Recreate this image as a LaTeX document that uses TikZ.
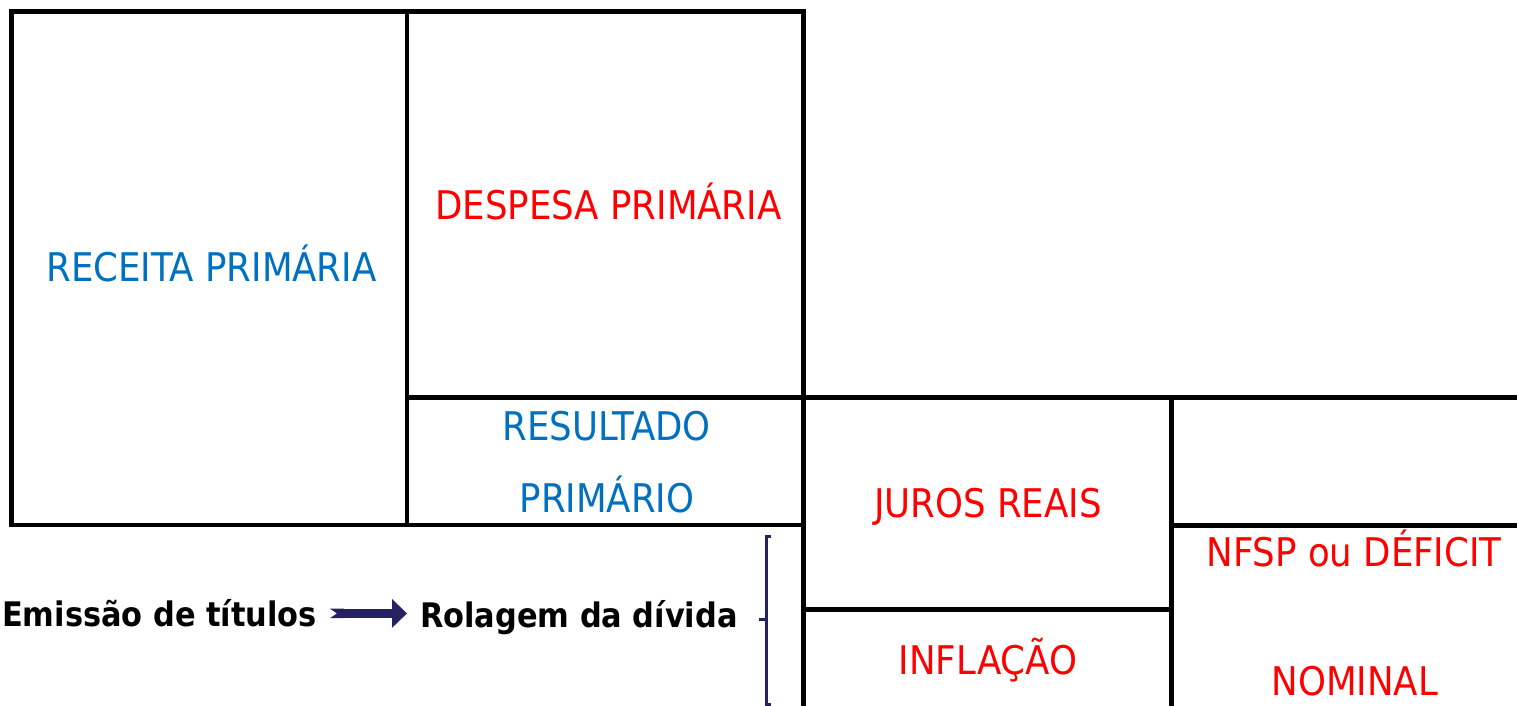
\documentclass[tikz,border=0pt]{standalone}
\usepackage{fontspec}
\setmainfont{DejaVu Sans Condensed}
\usetikzlibrary{arrows.meta,calc}
\definecolor{cblue}{HTML}{0070C0}
\definecolor{cred}{HTML}{FF0000}
\definecolor{cnavy}{HTML}{262262}
\begin{document}
\begin{tikzpicture}[x=1pt,y=-1pt,
  grid/.style={line width=4.8pt, line cap=rect, line join=miter, black},
  lbl/.style={inner sep=0pt, anchor=base, font=\fontsize{39.5}{39.5}\selectfont},
  bl/.style={lbl, text=cblue},
  rd/.style={lbl, text=cred},
  bk/.style={inner sep=0pt, anchor=base west, font=\fontsize{33.8}{33.8}\selectfont\bfseries, text=black},
  brk/.style={cnavy, line width=3pt, line join=miter},
  bigarrow/.style={cnavy, line width=9.4pt, {Triangle Cap[reversed,length=7pt]}-{Triangle[length=15pt,width=28pt]}}
]
\useasboundingbox[fill=white] (0,0) rectangle (1517,705);
% grid coordinates
\coordinate (a1) at (11.5,11.5);
\coordinate (a2) at (407,11.5);
\coordinate (a3) at (803.3,11.5);
\coordinate (b2) at (407,397.5);
\coordinate (b3) at (803.3,397.5);
\coordinate (b4) at (1171.5,397.5);
\coordinate (b5) at (1517,397.5);
\coordinate (c1) at (11.5,525);
\coordinate (c2) at (407,525);
\coordinate (c3) at (803.3,525);
\coordinate (c4) at (1171.5,525.5);
\coordinate (c5) at (1517,525.5);
\coordinate (d3) at (803.3,609.7);
\coordinate (d4) at (1171.5,609.7);
\coordinate (e3) at (803.3,705);
\coordinate (e4) at (1171.5,705);
% grid lines
\draw[grid] (c1) -- (a1) -- (a3) -- (e3);
\draw[grid] (a2) -- (c2);
\draw[grid] (c1) -- (c3);
\draw[grid] (b2) -- (b5);
\draw[grid] (b4) -- (e4);
\draw[grid] (d3) -- (d4);
\draw[grid] (c4) -- (c5);
% labels
\node[bl] (receita) at (211.5,281.7) {RECEITA PRIMÁRIA};
\node[rd] (despesa) at (608.5,219) {DESPESA PRIMÁRIA};
\node[bl] (res1) at (606.7,440) {RESULTADO};
\node[bl] (res2) at (607,512.7) {PRIMÁRIO};
\node[rd] (juros) at (988,517.3) {JUROS REAIS};
\node[rd] (infl) at (988,674) {INFLAÇÃO};
\node[rd] (nfsp1) at (1354,566.7) {NFSP ou DÉFICIT};
\node[rd] (nfsp2) at (1354.7,695) {NOMINAL};
\node[bk] (emis) at (2,626.7) {Emissão de títulos};
\node[bk] (rol) at (420,627.3) {Rolagem da dívida};
% arrow
\draw[bigarrow, shorten <=13pt, shorten >=13pt] (emis.east) -- (emis.east -| rol.west);
% bracket
\coordinate (brT) at (771,536);
\coordinate (brTL) at (766.5,536);
\coordinate (brBL) at (766.5,704);
\coordinate (brB) at (771,704);
\coordinate (brM) at (766.5,619.5);
\coordinate (brTick) at (759,619.5);
\draw[brk] (brT) -- (brTL) -- (brBL) -- (brB);
\draw[brk] (brM) -- (brTick);
\end{tikzpicture}
\end{document}
